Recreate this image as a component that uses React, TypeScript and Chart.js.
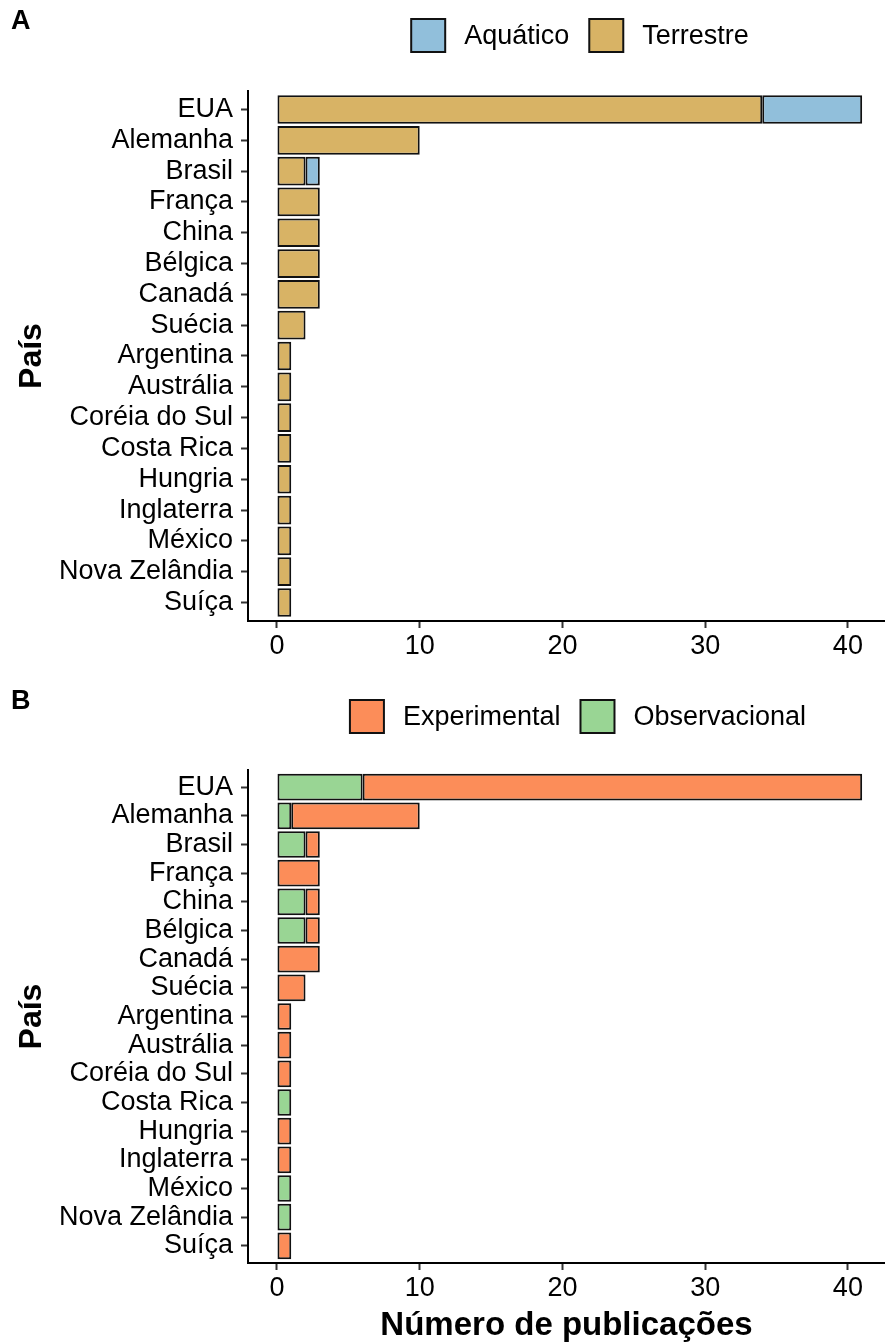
import React, { useEffect, useRef } from 'react';
import { Chart, registerables } from 'chart.js';

Chart.register(...registerables);

const FONT = "'Liberation Sans', Arial, sans-serif";

const countries = [
  'EUA', 'Alemanha', 'Brasil', 'França', 'China', 'Bélgica', 'Canadá', 'Suécia',
  'Argentina', 'Austrália', 'Coréia do Sul', 'Costa Rica', 'Hungria', 'Inglaterra',
  'México', 'Nova Zelândia', 'Suíça',
];

// Panel A
const terrestre = [34, 10, 2, 3, 3, 3, 3, 2, 1, 1, 1, 1, 1, 1, 1, 1, 1];
const aquatico = [7, 0, 1, 0, 0, 0, 0, 0, 0, 0, 0, 0, 0, 0, 0, 0, 0];

// Panel B
const observacional = [6, 1, 2, 0, 2, 2, 0, 0, 0, 0, 0, 1, 0, 0, 1, 1, 0];
const experimental = [35, 9, 1, 3, 1, 1, 3, 2, 1, 1, 1, 0, 1, 1, 0, 0, 1];

const xTicks = [0, 10, 20, 30, 40];

type Series = { label: string; values: number[]; color: string };

type PanelCfg = {
  height: number;
  letter: string;
  series: Series[]; // stacking order (first = nearest to axis)
  legendOrder: number[];
  legendCenter: number;
  legendTop: number;
  chartTop: number;
  xAxisHeight: number;
  xTitle?: string;
};

function makeOverlay(cfg: PanelCfg) {
  return {
    id: 'overlay',
    afterDraw(chart: any) {
      const ctx = chart.ctx as CanvasRenderingContext2D;
      ctx.save();
      ctx.fillStyle = '#000';
      ctx.textBaseline = 'middle';
      ctx.textAlign = 'left';
      ctx.font = `bold 27px ${FONT}`;
      ctx.fillText(cfg.letter, 11, 22);

      ctx.font = `27px ${FONT}`;
      const items = cfg.legendOrder.map((i) => chart.data.datasets[i]);
      const box = 34;
      const boxH = 33;
      const gapText = 19;
      const gapItem = 20;
      const widths = items.map((d: any) => ctx.measureText(d.label).width);
      const total =
        widths.reduce((a: number, w: number) => a + box + gapText + w, 0) +
        gapItem * (items.length - 1);
      let x = cfg.legendCenter - total / 2;
      items.forEach((d: any, k: number) => {
        ctx.fillStyle = d.backgroundColor;
        ctx.fillRect(x, cfg.legendTop, box, boxH);
        ctx.strokeStyle = '#111';
        ctx.lineWidth = 2;
        ctx.strokeRect(x, cfg.legendTop, box, boxH);
        ctx.fillStyle = '#000';
        ctx.fillText(d.label, x + box + gapText, cfg.legendTop + boxH / 2 + 1);
        x += box + gapText + widths[k] + gapItem;
      });
      ctx.restore();
    },
  };
}

function buildConfig(cfg: PanelCfg): any {
  const gridCommon = {
    display: true,
    drawOnChartArea: false,
    drawTicks: true,
    tickLength: 7,
    tickWidth: 2,
    tickColor: '#333',
    offset: false,
  };
  const border = { display: true, color: '#000', width: 2 };
  return {
    type: 'bar',
    data: {
      datasets: cfg.series.map((s) => ({
        label: s.label,
        data: countries
          .map((_, i) => ({ x: s.values[i], y: i }))
          .filter((d) => d.x > 0),
        backgroundColor: s.color,
        borderColor: '#111',
        borderWidth: 2,
        borderSkipped: false,
        barPercentage: 0.93,
        categoryPercentage: 1,
        stack: 's',
      })),
    },
    options: {
      indexAxis: 'y',
      responsive: false,
      animation: false,
      events: [],
      layout: { padding: { top: cfg.chartTop, left: 0, right: 0, bottom: 0 } },
      plugins: {
        legend: { display: false },
        tooltip: { enabled: false },
        title: { display: false },
      },
      scales: {
        x: {
          type: 'linear',
          stacked: true,
          min: -2.03,
          max: 42.6,
          offset: false,
          afterBuildTicks: (s: any) => {
            s.ticks = xTicks.map((v) => ({ value: v }));
          },
          afterFit: (s: any) => {
            s.height = cfg.xAxisHeight;
          },
          ticks: {
            color: '#000',
            padding: 2,
            autoSkip: false,
            maxRotation: 0,
            font: { size: 27, family: FONT, lineHeight: 1.2 },
            callback: (v: any) => String(v),
          },
          grid: gridCommon,
          border,
          title: cfg.xTitle
            ? {
                display: true,
                text: cfg.xTitle,
                color: '#000',
                font: { size: 33, weight: 'bold', family: FONT, lineHeight: 1.1 },
                padding: { top: 0, bottom: 0 },
              }
            : { display: false },
        },
        y: {
          type: 'linear',
          reverse: true,
          min: -0.6,
          max: 16.6,
          offset: false,
          afterBuildTicks: (s: any) => {
            s.ticks = countries.map((_, i) => ({ value: i }));
          },
          afterFit: (s: any) => {
            s.width = 248;
          },
          ticks: {
            color: '#000',
            padding: 8,
            autoSkip: false,
            font: { size: 27, family: FONT, lineHeight: 1.0 },
            callback: (v: any) => countries[v as number],
          },
          grid: gridCommon,
          border,
          title: {
            display: true,
            text: 'País',
            color: '#000',
            font: { size: 32, weight: 'bold', family: FONT, lineHeight: 1.2 },
            padding: { top: 13, bottom: 0 },
          },
        },
      },
    },
    plugins: [makeOverlay(cfg)],
  };
}

function Panel({ cfg }: { cfg: PanelCfg }) {
  const ref = useRef<HTMLCanvasElement>(null);
  useEffect(() => {
    const chart = new Chart(ref.current as HTMLCanvasElement, buildConfig(cfg));
    return () => chart.destroy();
  }, []);
  return (
    <canvas
      ref={ref}
      width={885}
      height={cfg.height}
      style={{ display: 'block', width: 885, height: cfg.height }}
    />
  );
}

const panelA: PanelCfg = {
  height: 680,
  letter: 'A',
  series: [
    { label: 'Terrestre', values: terrestre, color: '#D8B365' },
    { label: 'Aquático', values: aquatico, color: '#91BFDB' },
  ],
  legendOrder: [1, 0],
  legendCenter: 580,
  legendTop: 19,
  chartTop: 91,
  xAxisHeight: 59,
};

const panelB: PanelCfg = {
  height: 664,
  letter: 'B',
  series: [
    { label: 'Observacional', values: observacional, color: '#99D594' },
    { label: 'Experimental', values: experimental, color: '#FC8D59' },
  ],
  legendOrder: [1, 0],
  legendCenter: 578,
  legendTop: 20,
  chartTop: 90,
  xAxisHeight: 81,
  xTitle: 'Número de publicações',
};

export default function App() {
  return (
    <div
      style={{
        position: 'absolute',
        left: 0,
        top: 0,
        width: 885,
        height: 1344,
        background: '#fff',
      }}
    >
      <Panel cfg={panelA} />
      <Panel cfg={panelB} />
    </div>
  );
}
